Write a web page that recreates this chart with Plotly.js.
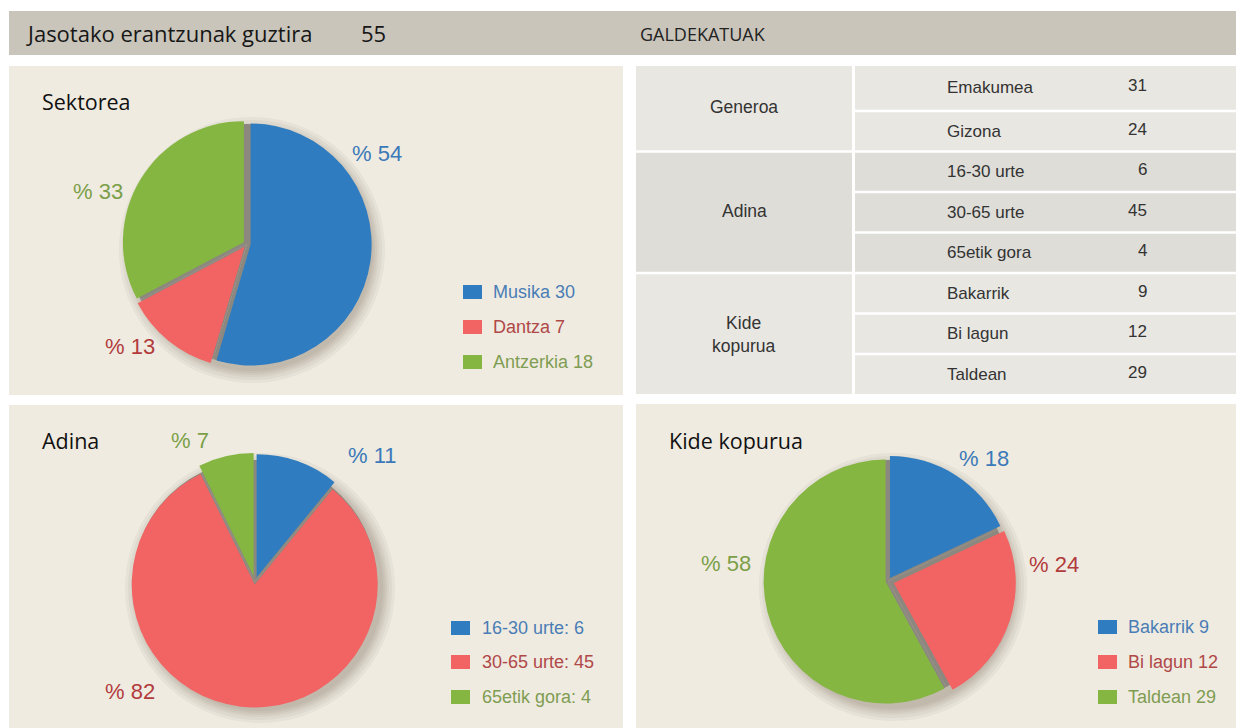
<!DOCTYPE html>
<html>
<head>
<meta charset="utf-8">
<script src="https://cdn.plot.ly/plotly-3.0.1.min.js"></script>
<style>
  html, body { margin: 0; padding: 0; background: #ffffff; }
  #chart { width: 1236px; height: 728px; }
</style>
</head>
<body>
<div id="chart"></div>
<script>
// ---------------- DATA ----------------
const headerLabel = 'Jasotako erantzunak guztira';
const headerTotal = 55;
const headerRight = 'GALDEKATUAK';

const sektoreTitle = 'Sektorea';
const sektoreNames = ['Musika', 'Dantza', 'Antzerkia'];
const sektoreValues = [30, 7, 18];
const sektorePct = ['% 54', '% 13', '% 33'];

const adinaTitle = 'Adina';
const adinaNames = ['16-30 urte', '30-65 urte', '65etik gora'];
const adinaValues = [6, 45, 4];
const adinaPct = ['% 11', '% 82', '% 7'];

const kideTitle = 'Kide kopurua';
const kideNames = ['Bakarrik', 'Bi lagun', 'Taldean'];
const kideValues = [9, 12, 29];
const kidePct = ['% 18', '% 24', '% 58'];

const tableGroups = ['Generoa', 'Adina', 'Kide<br>kopurua'];
const tableGroupSizes = [2, 3, 3];
const tableItems = ['Emakumea', 'Gizona', '16-30 urte', '30-65 urte', '65etik gora', 'Bakarrik', 'Bi lagun', 'Taldean'];
const tableValues = [31, 24, 6, 45, 4, 9, 12, 29];

// ---------------- STYLE ----------------
const W = 1236, H = 728;
const sliceColors = ['#2f7cc1', '#f26363', '#85b642'];
const pctColors = ['#3b79b8', '#b23b3d', '#7b9f48'];
const legendColors = ['#4a7db5', '#b04848', '#7f9d52'];
const panelBg = '#efebe1';
const headerBg = '#c9c5bb';
const tableLight = '#e9e7e2';
const tableDark = '#dfddd8';
const titleFont = 'Open Sans, Noto Sans, sans-serif';
const bodyFont = 'Liberation Sans, Arial, sans-serif';

const px = x => x / W;
const py = y => 1 - y / H;

function dom(cx, cy, r, maxPull) {
  const s = 2 * r * (1 + maxPull);
  return { x: [px(cx - s / 2), px(cx + s / 2)], y: [py(cy + s / 2), py(cy - s / 2)] };
}

const shapes = [];
const annotations = [];

function rect(x0, y0, x1, y1, color) {
  shapes.push({ type: 'rect', xref: 'paper', yref: 'paper', layer: 'below',
    x0: px(x0), x1: px(x1), y0: py(y1), y1: py(y0),
    fillcolor: color, line: { width: 0 } });
}
function text(t, x, y, opts) {
  annotations.push(Object.assign({
    text: t, xref: 'paper', yref: 'paper', x: px(x), y: py(y),
    showarrow: false, xanchor: 'left', yanchor: 'middle',
    font: { family: bodyFont, size: 16, color: '#333' }
  }, opts || {}));
}

// header
rect(9, 11, 1236, 55, headerBg);
text(headerLabel, 24, 33, { font: { family: titleFont, size: 22, color: '#161616' } });
text(String(headerTotal), 359, 33, { font: { family: titleFont, size: 22, color: '#161616' } });
text(headerRight, 638, 34, { font: { family: titleFont, size: 18, color: '#222' } });

// panels
rect(9, 66, 623, 395, panelBg);
rect(9, 405, 623, 728, panelBg);
rect(636, 404, 1236, 728, panelBg);

// table
const rowB = [66];
for (let i = 1; i < tableItems.length; i++) rowB.push(70.5 + 40.5 * i);
rowB.push(394);
const gap = 2.5;
let rowIdx = 0;
tableGroups.forEach((g, gi) => {
  const col = gi % 2 === 1 ? tableDark : tableLight;
  const first = rowIdx, last = rowIdx + tableGroupSizes[gi] - 1;
  const gTop = rowB[first] + (first === 0 ? 0 : gap / 2);
  const gBot = rowB[last + 1] - (last === tableItems.length - 1 ? 0 : gap / 2);
  rect(636, gTop, 852, gBot, col);
  const lines = g.split('<br>').length;
  text(g, 744, (gTop + gBot) / 2 - (lines > 1 ? 0 : 1), { xanchor: 'center',
    font: { family: bodyFont, size: 17.5, color: '#333' } });
  for (let r = first; r <= last; r++) {
    const t = rowB[r] + (r === 0 ? 0 : gap / 2);
    const b = rowB[r + 1] - (r === tableItems.length - 1 ? 0 : gap / 2);
    rect(855, t, 1236, b, col);
    text(tableItems[r], 945, (t + b) / 2, { font: { family: bodyFont, size: 17, color: '#333' } });
    text(String(tableValues[r]), 1149, (t + b) / 2 - 2, { xanchor: 'right',
      font: { family: bodyFont, size: 17, color: '#333' } });
  }
  rowIdx = last + 1;
});

// ---------------- PIES ----------------
const traces = [];
function addPie(values, names, cx, cy, r, pulls) {
  const mp = Math.max.apply(null, pulls);
  const noPull = values.map(() => 0);
  // soft drop shadow, built from stacked translucent copies of the pie
  [14, 11, 8, 6, 4, 2].forEach(extra => {
    traces.push({ type: 'pie', values: values, labels: names, sort: false,
      direction: 'clockwise', rotation: 0, pull: noPull, textinfo: 'none',
      hoverinfo: 'skip', showlegend: false,
      marker: { colors: values.map(() => 'rgba(70,55,35,0.05)'), line: { width: 0 } },
      domain: dom(cx + 5, cy + 6, r + extra - 2, 0) });
  });
  // grey core visible in the gaps between exploded slices
  traces.push({ type: 'pie', values: values, labels: names, sort: false,
    direction: 'clockwise', rotation: 0, pull: noPull, textinfo: 'none',
    hoverinfo: 'skip', showlegend: false,
    marker: { colors: values.map(() => '#8d887f'), line: { width: 0 } },
    domain: dom(cx, cy, r - 1, 0) });
  traces.push({ type: 'pie', values: values, labels: names, sort: false,
    direction: 'clockwise', rotation: 0, pull: pulls, textinfo: 'none',
    hoverinfo: 'label+value+percent', showlegend: false,
    marker: { colors: sliceColors, line: { width: 0 } },
    domain: dom(cx, cy, r, mp) });
}
addPie(sektoreValues, sektoreNames, 247, 244, 121, [0.03, 0.03, 0.03]);
addPie(adinaValues, adinaNames, 255, 582, 123, [0.04, 0.02, 0.05]);
addPie(kideValues, kideNames, 888, 581, 122, [0.03, 0.05, 0.02]);

// titles
text(sektoreTitle, 40, 102, { font: { family: titleFont, size: 21.5, color: '#111' } });
text(adinaTitle, 40, 440, { font: { family: titleFont, size: 21.5, color: '#111' } });
text(kideTitle, 667, 440, { font: { family: titleFont, size: 21.5, color: '#111' } });

// percentage labels
function pctLabels(labels, pos) {
  labels.forEach((l, i) => text(l, pos[i][0], pos[i][1], { xanchor: 'center',
    font: { family: bodyFont, size: 22, color: pctColors[i] } }));
}
pctLabels(sektorePct, [[377, 153], [130, 346], [98, 192]]);
pctLabels(adinaPct, [[372, 455], [130, 691], [190, 441]]);
pctLabels(kidePct, [[984, 458], [1054, 564], [726, 563]]);

// legends
function legend(names, values, sep, sqX, txtX, ys) {
  names.forEach((n, i) => {
    rect(sqX, ys[i] - 7, sqX + 19, ys[i] + 7, sliceColors[i]);
    text(n + sep + values[i], txtX, ys[i], {
      font: { family: bodyFont, size: 18, color: legendColors[i] } });
  });
}
legend(sektoreNames, sektoreValues, ' ', 463, 491, [292, 327, 362]);
legend(adinaNames, adinaValues, ': ', 451, 480, [628, 662, 697]);
legend(kideNames, kideValues, ' ', 1098, 1126, [627, 662, 697]);

const layout = {
  width: W, height: H,
  margin: { l: 0, r: 0, t: 0, b: 0 },
  paper_bgcolor: '#ffffff',
  plot_bgcolor: '#ffffff',
  showlegend: false,
  shapes: shapes,
  annotations: annotations
};

Plotly.newPlot('chart', traces, layout, { displayModeBar: false, staticPlot: false });
</script>
</body>
</html>
